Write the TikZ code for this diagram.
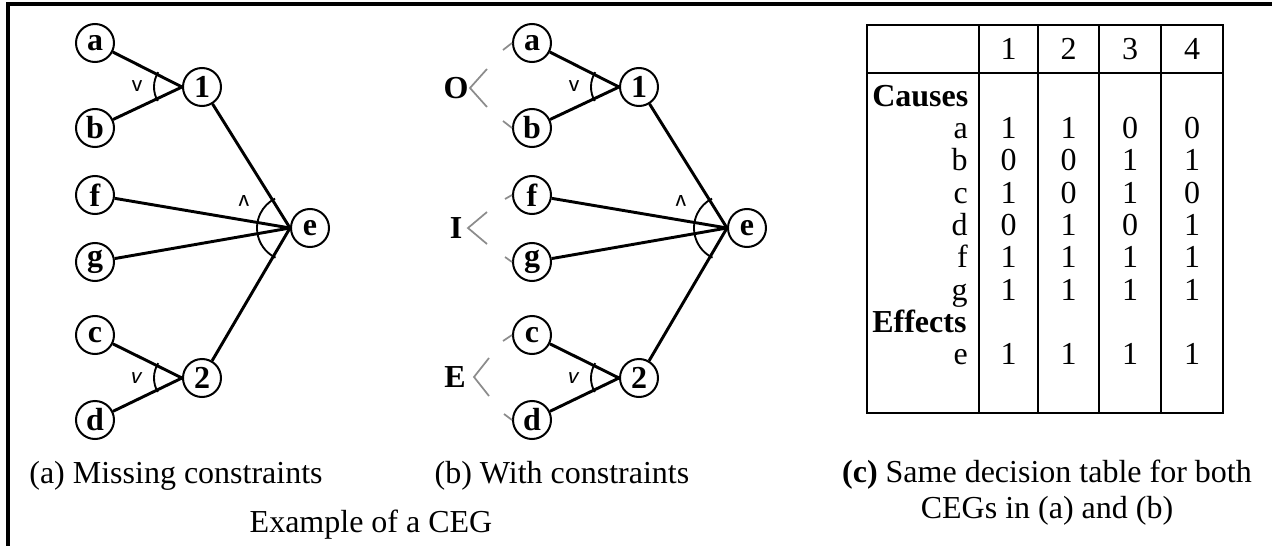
\documentclass[tikz,border=0pt]{standalone}
\usepackage{fontspec}
\setmainfont{Liberation Serif}
\usetikzlibrary{calc}
\begin{document}
\begin{tikzpicture}[x=0.75pt,y=-0.75pt,
  cnode/.style={circle,draw,line width=1.5pt,minimum size=28.5pt,inner sep=0pt,
    font=\fontsize{24}{28}\selectfont\bfseries},
  edge/.style={line width=2.2pt},
  joinarc/.style={line width=1.4pt},
  opsym/.style={inner sep=0pt,font=\fontsize{19}{22}\selectfont\sffamily},
  cons/.style={draw=black!45,line width=1.3pt},
  conslabel/.style={inner sep=0pt,font=\fontsize{24}{28}\selectfont\bfseries},
  txt/.style={inner sep=0pt,anchor=base,font=\fontsize{24}{28}\selectfont},
  rowlabel/.style={inner sep=0pt,anchor=base east,font=\fontsize{24}{28}\selectfont},
  grouplabel/.style={inner sep=0pt,anchor=base west,font=\fontsize{24}{28}\selectfont\bfseries},
  tableline/.style={line width=2.2pt},
  frame/.style={line width=2.3pt}]
\useasboundingbox (0,0) rectangle (1272,546);

% outer frame (top and left edge)
\draw[frame] (8,546) -- (8,4) -- (1272,4);

% the two cause-effect graphs
\foreach \p/\dx in {A/0,B/437}{
  \node[cnode] (\p a) at (95+\dx,43)  {a};
  \node[cnode] (\p b) at (95+\dx,128) {b};
  \node[cnode] (\p 1) at (202+\dx,87) {1};
  \node[cnode] (\p f) at (95+\dx,195) {f};
  \node[cnode] (\p g) at (95+\dx,262) {g};
  \node[cnode] (\p e) at (310+\dx,228) {e};
  \node[cnode] (\p c) at (95+\dx,335) {c};
  \node[cnode] (\p d) at (95+\dx,420) {d};
  \node[cnode] (\p 2) at (202+\dx,378) {2};

  \draw[edge] (\p a) -- (\p 1.west);
  \draw[edge] (\p b) -- (\p 1.west);
  \draw[edge] (\p c) -- (\p 2.west);
  \draw[edge] (\p d) -- (\p 2.west);
  \draw[edge] (\p f) -- (\p e.west);
  \draw[edge] (\p g) -- (\p e.west);
  \draw[edge] (\p 1) -- (\p e.west);
  \draw[edge] (\p 2) -- (\p e.west);

  % OR / AND joins
  \draw[joinarc] ($(\p 1.west)+(150:28)$) arc[start angle=150,end angle=212,radius=28];
  \draw[joinarc] ($(\p 2.west)+(150:28)$) arc[start angle=150,end angle=212,radius=28];
  \draw[joinarc] ($(\p e.west)+(116:33)$) arc[start angle=116,end angle=243,radius=33];
  \node[opsym] (\p or1) at (137+\dx,86) {v};
  \node[opsym] (\p or2) at (135+\dx,378) {\itshape v};
  \node[opsym,rotate=180] (\p and) at (244+\dx,201) {v};
}

% constraints of graph (b)
\node[conslabel] (O) at (456,88) {O};
\node[conslabel] (I) at (456,228) {I};
\node[conslabel] (E) at (455,377) {E};
\coordinate (Ov) at (470,88);
\coordinate (Iv) at (468,228);
\coordinate (Ev) at (474,377);
\draw[cons] (487,69) -- (Ov) -- (487,107);
\draw[cons] (487,212) -- (Iv) -- (487,244);
\draw[cons] (489,358) -- (Ev) -- (489,396);
\draw[cons] (503,50) -- (Ba.west);
\draw[cons] (503,121) -- (Bb.west);
\draw[cons] (505,199) -- (Bf.west);
\draw[cons] (505,257) -- (Bg.west);
\draw[cons] (503,341) -- (Bc.west);
\draw[cons] (504,414) -- (Bd.west);

% decision table
\draw[tableline] (867,25) rectangle (1223,413);
\draw[tableline] (867,73) -- (1223,73);
\foreach \x in {979,1038,1099,1161}
  \draw[tableline] (\x,25) -- (\x,413);
\foreach \n/\x in {1/1008.5,2/1068.5,3/1130,4/1192}
  \node[txt] (h\n) at (\x,60) {\n};
\node[grouplabel] (causes) at (872,106) {Causes};
\node[grouplabel] (effects) at (872,332) {Effects};
\foreach \r/\y/\u/\v/\w/\z in {a/138/1/1/0/0, b/170/0/0/1/1, c/203/1/0/1/0,
    d/235/0/1/0/1, f/267/1/1/1/1, g/300/1/1/1/1, e/364/1/1/1/1}{
  \node[rowlabel] (r\r) at (968,\y) {\r};
  \node[txt] (r\r1) at (1008.5,\y) {\u};
  \node[txt] (r\r2) at (1068.5,\y) {\v};
  \node[txt] (r\r3) at (1130,\y) {\w};
  \node[txt] (r\r4) at (1192,\y) {\z};
}

% captions
\node[txt] (capa) at (176,483) {(a) Missing constraints};
\node[txt] (capb) at (562,483) {(b) With constraints};
\node[txt] (capmain) at (371,532) {Example of a CEG};
\node[txt] (capc1) at (1047,482) {\textbf{(c)} Same decision table for both};
\node[txt] (capc2) at (1047,518) {CEGs in (a) and (b)};
\end{tikzpicture}
\end{document}
